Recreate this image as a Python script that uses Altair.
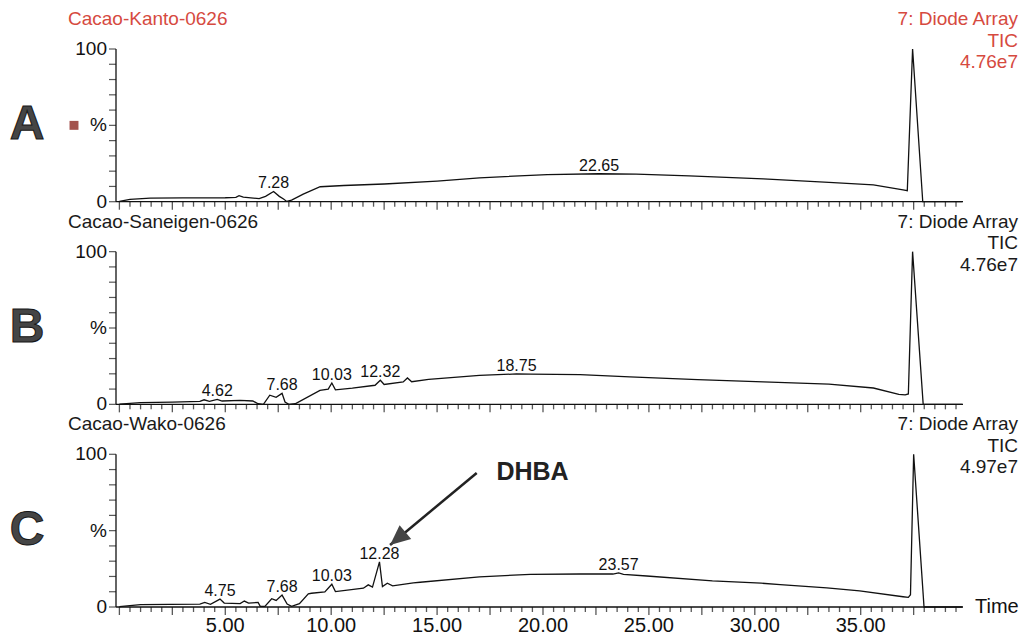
import altair as alt
import pandas as pd

# ---- TIC traces: retention time (min) and relative intensity (%) ----
kanto_t = [0.0, 0.5, 1.45, 3.0, 5.0, 5.5, 5.65, 5.85, 6.6, 6.9,
           7.28, 7.55, 7.75, 7.9, 8.13, 8.68, 9.48, 10.6, 12.5, 15.0,
           17.0, 20.2, 22.65, 24.4, 26.9, 30.4, 33.5, 35.6, 37.0, 37.2,
           37.45, 37.93, 39.8]
kanto_pct = [0.2, 1.5, 2.3, 2.5, 2.6, 2.8, 4.0, 3.0, 2.0, 3.5,
             6.7, 3.5, 1.8, 0.2, 1.0, 5.0, 9.8, 10.6, 11.6, 13.5,
             15.6, 17.8, 18.3, 18.0, 16.9, 14.9, 12.7, 11.0, 7.7, 7.2,
             100.0, 0.0, 0.0]

saneigen_t = [0.0, 1.0, 2.5, 3.8, 4.0, 4.25, 4.62, 4.85, 5.7, 6.3,
              6.55, 6.8, 7.1, 7.4, 7.68, 7.82, 8.0, 8.3, 9.47, 9.86,
              10.03, 10.2, 11.0, 12.07, 12.32, 12.5, 13.4, 13.6, 13.8, 14.6,
              17.0, 18.75, 19.4, 21.75, 24.1, 27.3, 30.4, 33.5, 35.6, 36.8,
              37.1, 37.25, 37.45, 37.95, 39.8]
saneigen_pct = [0.2, 1.1, 1.5, 1.9, 3.0, 2.0, 3.3, 2.2, 2.6, 2.2,
                0.4, 0.0, 6.0, 4.6, 7.2, 1.5, 0.0, 0.4, 9.2, 10.0,
                14.0, 9.5, 10.6, 12.5, 15.8, 13.0, 14.7, 17.3, 14.8, 16.4,
                19.0, 19.9, 19.8, 19.5, 18.0, 16.2, 14.7, 13.2, 10.7, 6.5,
                6.2, 6.8, 100.0, 0.0, 0.0]

wako_t = [0.0, 1.0, 3.8, 4.03, 4.3, 4.75, 4.95, 5.7, 5.9, 6.1,
          6.55, 6.65, 6.87, 7.19, 7.4, 7.68, 7.92, 8.13, 8.5, 8.92,
          9.07, 9.7, 10.03, 10.2, 11.52, 11.75, 11.95, 12.28, 12.42, 12.65,
          12.9, 13.88, 14.2, 17.0, 19.4, 21.75, 23.3, 23.57, 23.8, 24.9,
          28.0, 30.3, 31.2, 33.4, 34.95, 37.0, 37.25, 37.35, 37.5, 37.99,
          39.8]
wako_pct = [0.2, 1.5, 1.9, 3.0, 1.8, 5.2, 2.6, 2.2, 3.9, 2.6,
            3.0, 0.4, 0.4, 5.4, 4.3, 7.8, 1.9, 0.4, 2.2, 8.6,
            9.0, 9.9, 14.9, 10.1, 12.3, 14.5, 13.0, 29.6, 13.4, 15.6,
            13.9, 15.8, 16.2, 19.7, 21.4, 21.6, 21.6, 22.3, 21.4, 20.3,
            17.1, 15.6, 14.6, 12.5, 10.6, 6.7, 6.3, 8.0, 100.0, 0.0,
            0.0]

# ---- labelled peak apexes (retention times) ----
kanto_peaks = [7.28, 22.65]
saneigen_peaks = [4.62, 7.68, 10.03, 12.32, 18.75]
wako_peaks = [4.75, 7.68, 10.03, 12.28, 23.57]

# ---- panel texts ----
samples = ["Cacao-Kanto-0626", "Cacao-Saneigen-0626", "Cacao-Wako-0626"]
panel_letters = ["A", "B", "C"]
detector = "7: Diode Array"
trace_kind = "TIC"
full_scale = ["4.76e7", "4.76e7", "4.97e7"]
header_colors = ["#d64a3f", "#1a1a1a", "#1a1a1a"]
time_labels = [5, 10, 15, 20, 25, 30, 35]
pct_labels = {0: "0", 50: "%", 100: "100"}
pct_ticks = list(range(0, 101, 10))
time_ticks = [i * 0.5 for i in range(80)]

# DHBA call-out in the Wako trace (time, %)
dhba_label_at = (17.8, 88.7)
dhba_arrow_from = (16.87, 87.8)
dhba_arrow_to = (12.78, 40.6)

traces_t = [kanto_t, saneigen_t, wako_t]
traces_pct = [kanto_pct, saneigen_pct, wako_pct]
traces_peaks = [kanto_peaks, saneigen_peaks, wako_peaks]

# the three traces share one time axis and are stacked vertically
T_MIN, T_MAX = -0.16, 39.83
STEP = 132.7
Y_TOP = 2 * STEP + 100
offsets = [2 * STEP, STEP, 0.0]

curve_rows, peak_rows = [], []
for name, ts, ps, pk, off in zip(samples, traces_t, traces_pct, traces_peaks, offsets):
    for t, p in zip(ts, ps):
        curve_rows.append({"sample": name, "t": t, "y": p + off})
    lookup = dict(zip(ts, ps))
    for t in pk:
        peak_rows.append({"t": t, "y": lookup[t] + off, "label": f"{t:.2f}"})
curves = pd.DataFrame(curve_rows)
peaks = pd.DataFrame(peak_rows)

y_dom = pd.DataFrame({"t": [T_MIN] * 3, "y": offsets, "y2": [o + 100 for o in offsets]})
x_dom = pd.DataFrame({"t": [T_MIN] * 3, "t2": [T_MAX] * 3, "y": offsets})
y_ticks = pd.DataFrame([{"t": T_MIN, "y": o + v} for o in offsets for v in pct_ticks])
x_ticks = pd.DataFrame([{"t": t, "y": o, "major": (t % 2.5 == 0)}
                        for o in offsets for t in time_ticks])
y_labels = pd.DataFrame([{"t": T_MIN, "y": o + v, "text": s}
                         for o in offsets for v, s in pct_labels.items()])
x_labels = pd.DataFrame({"t": time_labels, "y": [offsets[2]] * len(time_labels),
                         "text": [f"{v:.2f}" for v in time_labels]})
titles = pd.DataFrame({"t": [T_MIN] * 3, "y": [o + 100 for o in offsets],
                       "text": samples, "color": header_colors})
headers = pd.DataFrame({"t": [T_MAX] * 3, "y": [o + 100 for o in offsets],
                        "text": [f"{detector}\n{trace_kind}\n{f}" for f in full_scale],
                        "color": header_colors})
letters = pd.DataFrame({"t": [T_MIN] * 3, "y": [o + 50 for o in offsets], "text": panel_letters})
marker = pd.DataFrame({"t": [T_MIN], "y": [offsets[0] + 50]})
time_title = pd.DataFrame({"t": [T_MAX], "y": [offsets[2]], "text": ["Time"]})
dhba = pd.DataFrame({"t": [dhba_label_at[0]], "y": [dhba_label_at[1]], "text": ["DHBA"]})
arrow = pd.DataFrame({"t": [dhba_arrow_from[0]], "y": [dhba_arrow_from[1]],
                      "t2": [dhba_arrow_to[0]], "y2": [dhba_arrow_to[1]]})
arrow_tip = pd.DataFrame({"t": [dhba_arrow_to[0]], "y": [dhba_arrow_to[1]]})

xs = alt.Scale(domain=[T_MIN, T_MAX], nice=False, zero=False)
ys = alt.Scale(domain=[0, Y_TOP], nice=False, zero=False)
X = alt.X("t:Q", scale=xs, axis=None)
Y = alt.Y("y:Q", scale=ys, axis=None)
INK = "#111111"

trace_lines = alt.Chart(curves).mark_line(color=INK, strokeWidth=1.3).encode(
    x=X, y=Y, detail="sample:N", order="t:Q")

peak_text = alt.Chart(peaks).mark_text(
    fontSize=16, baseline="alphabetic", dy=-3, color=INK).encode(x=X, y=Y, text="label:N")

y_axis = alt.Chart(y_dom).mark_rule(color=INK, strokeWidth=1.3).encode(
    x=X, y=Y, y2=alt.Y2("y2:Q"))
x_axis = alt.Chart(x_dom).mark_rule(color=INK, strokeWidth=1.3).encode(
    x=X, x2=alt.X2("t2:Q"), y=Y)

y_tick_marks = alt.Chart(y_ticks).mark_tick(
    orient="horizontal", size=7, thickness=1.2, xOffset=-3.5, color=INK).encode(x=X, y=Y)
x_major = alt.Chart(x_ticks).transform_filter("datum.major").mark_tick(
    orient="vertical", size=8, thickness=1.3, yOffset=4, color=INK).encode(x=X, y=Y)
x_minor = alt.Chart(x_ticks).transform_filter("!datum.major").mark_tick(
    orient="vertical", size=5, thickness=1.3, yOffset=2.5, color=INK).encode(x=X, y=Y)

y_label_text = alt.Chart(y_labels).mark_text(
    align="right", baseline="middle", dx=-9, fontSize=19, color=INK).encode(x=X, y=Y, text="text:N")
x_label_text = alt.Chart(x_labels).mark_text(
    align="center", baseline="middle", dy=19, fontSize=20, color=INK).encode(x=X, y=Y, text="text:N")
time_text = alt.Chart(time_title).mark_text(
    align="left", baseline="middle", dx=12, fontSize=20, color=INK).encode(x=X, y=Y, text="text:N")

title_text = alt.Chart(titles).mark_text(
    align="left", baseline="middle", dx=-48, dy=-30, fontSize=19).encode(
    x=X, y=Y, text="text:N", color=alt.Color("color:N", scale=None))
header_text = alt.Chart(headers).mark_text(
    align="right", baseline="top", dx=55, dy=-39, fontSize=19, lineBreak="\n", lineHeight=21.5).encode(
    x=X, y=Y, text="text:N", color=alt.Color("color:N", scale=None))

letter_text = alt.Chart(letters).mark_text(
    align="center", baseline="middle", dx=-89, fontSize=48, fontWeight="bold",
    fill="#454545", stroke="#161616", strokeWidth=1).encode(x=X, y=Y, text="text:N")
marker_square = alt.Chart(marker).mark_square(
    size=80, color="#a3524d", opacity=1, xOffset=-42).encode(x=X, y=Y)

dhba_text = alt.Chart(dhba).mark_text(
    align="left", baseline="middle", fontSize=25, fontWeight="bold", color="#222222").encode(
    x=X, y=Y, text="text:N")
arrow_shaft = alt.Chart(arrow).mark_rule(color="#222222", strokeWidth=2.5).encode(
    x=X, y=Y, x2=alt.X2("t2:Q"), y2=alt.Y2("y2:Q"))
arrow_head = alt.Chart(arrow_tip).mark_point(
    shape="M0,0L-0.9,2L0.9,2Z", size=400, angle=230, filled=True,
    color="#444444", opacity=1).encode(x=X, y=Y)

chart = alt.layer(
    trace_lines, x_axis, y_axis, x_major, x_minor, y_tick_marks,
    y_label_text, x_label_text, time_text, peak_text, title_text, header_text,
    letter_text, marker_square, arrow_shaft, arrow_head, dhba_text,
).properties(
    width=847, height=558,
    padding={"left": 116, "top": 49, "right": 63, "bottom": 30},
    autosize=alt.AutoSizeParams(type="none"),
    background="white",
).configure_view(strokeWidth=0).configure_text(font="Liberation Sans")

chart.save("out.html", embed_options={"renderer": "svg", "actions": False})
